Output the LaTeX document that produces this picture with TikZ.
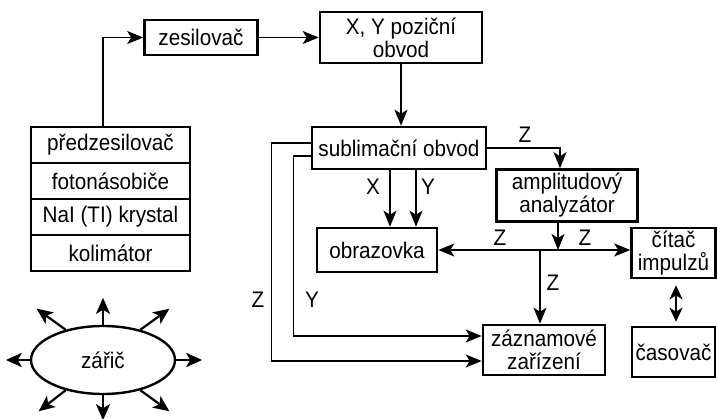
\documentclass[tikz,border=0pt]{standalone}
\usepackage{fontspec}
\setmainfont[FakeStretch=0.92]{Liberation Sans}
\usetikzlibrary{arrows.meta,shapes.geometric}
\begin{document}
\begin{tikzpicture}[x=1pt,y=-1pt,
  txt/.style={font=\fontsize{22.5}{23}\selectfont},
  box/.style={draw,line width=2.6pt,inner sep=0pt,align=center,txt},
  lab/.style={inner sep=0pt,txt},
  tip/.tip={Stealth[length=16pt,width=13pt,inset=4pt]},
  conn/.style={line width=1.3pt,-tip},
  line/.style={line width=1.3pt},
  ray/.style={line width=2.2pt,-{Stealth[length=16pt,width=14pt,inset=4pt]}}]
\useasboundingbox (0,0) rectangle (717,419);
% nodes
\node[box,minimum width=113,minimum height=35] (zes) at (201,37.5) {zesilovač};
\node[box,minimum width=162,minimum height=51] (xy) at (401,37.5) {X, Y poziční\\obvod};
\node[box,minimum width=159,minimum height=36] (s1) at (110.5,145) {předzesilovač};
\node[box,minimum width=159,minimum height=36] (s2) at (110.5,181) {fotonásobiče};
\node[box,minimum width=159,minimum height=36] (s3) at (110.5,217) {NaI (TI) krystal};
\node[box,minimum width=159,minimum height=36] (s4) at (110.5,253) {kolimátor};
\node[box,minimum width=174,minimum height=42] (sub) at (399,148) {sublimační obvod};
\node[box,minimum width=141,minimum height=52] (amp) at (567,195.5) {amplitudový\\analyzátor};
\node[box,minimum width=120,minimum height=44] (obr) at (377,250) {obrazovka};
\node[box,minimum width=122,minimum height=50] (zaz) at (544,350) {záznamové\\zařízení};
\node[box,minimum width=84,minimum height=50] (cit) at (673.5,253) {čítač\\impulzů};
\node[box,minimum width=83,minimum height=50] (cas) at (673.5,352) {časovač};
\node[draw,ellipse,line width=2.4pt,minimum width=144,minimum height=68,inner sep=0pt,txt] (zar) at (103,360) {zářič};
% connectors
\draw[conn] ([xshift=-7.5pt]s1.north) |- (zes.west);
\draw[conn] (zes.east) -- (xy.west);
\draw[conn] (xy.south) -- (xy.south |- sub.north);
\draw[conn] (sub.east) -| ([xshift=-7pt]amp.north);
\draw[conn] ([xshift=-9pt]sub.south) -- ([xshift=-9pt]sub.south |- obr.north);
\draw[conn] ([xshift=17pt]sub.south) -- ([xshift=17pt]sub.south |- obr.north);
\draw[line,tip-tip] (obr.east) -- (obr.east -| cit.west);
\draw[conn] ([xshift=-9pt]amp.south) -- ([xshift=-9pt]amp.south |- obr.east);
\draw[conn] ([xshift=-4pt]zaz.north |- obr.east) -- ([xshift=-4pt]zaz.north);
\draw[conn] ([yshift=5pt]sub.west) -- ++(-39,0) |- ([yshift=-11pt]zaz.west);
\draw[conn] ([yshift=-8pt]sub.west) -- ++(-17,0) |- ([yshift=14pt]zaz.west);
\draw[line width=2.2pt,{Stealth[length=14pt,width=13pt,inset=4pt]}-{Stealth[length=14pt,width=13pt,inset=4pt]},shorten <=6pt,shorten >=4pt] ([xshift=2.5pt]cit.south) -- ([xshift=2.5pt]cit.south |- cas.north);
% rays
\draw[ray] (zar.0) -- ++(26,0);
\draw[ray] (zar.180) -- ++(-24,0);
\draw[ray] (zar.90) -- ++(0,-27);
\draw[ray] (zar.270) -- ++(0,25);
\draw[ray] (zar.39) -- ++(29,-21);
\draw[ray] (zar.141) -- ++(-29,-21);
\draw[ray] (zar.-39) -- ++(29,21);
\draw[ray] (zar.-141) -- ++(-27,21);
% labels
\node[lab] (lz1) at (525,135) {Z};
\node[lab] (lx) at (373,187) {X};
\node[lab] (ly) at (428,187) {Y};
\node[lab] (lz2) at (500,238) {Z};
\node[lab] (lz3) at (585,238) {Z};
\node[lab] (lz4) at (553,283) {Z};
\node[lab] (lz5) at (258,300) {Z};
\node[lab] (ly2) at (312,300) {Y};
\end{tikzpicture}
\end{document}
